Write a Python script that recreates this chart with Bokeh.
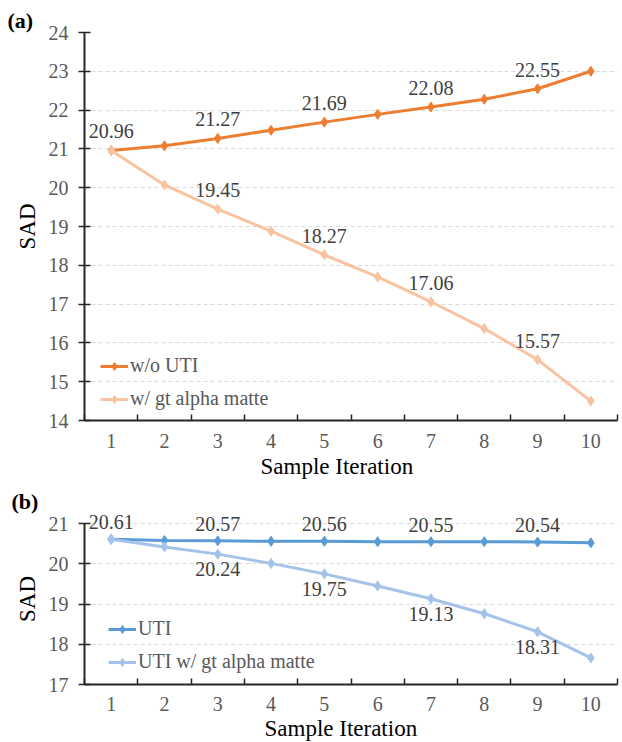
from bokeh.plotting import figure
from bokeh.models import ColumnDataSource, FixedTicker, LabelSet, Title
from bokeh.layouts import column
from bokeh.core.properties import value
from bokeh.embed import file_html
from bokeh.resources import INLINE

# ---------------- data ----------------
iterations = [1, 2, 3, 4, 5, 6, 7, 8, 9, 10]
a_wo_uti = [20.96, 21.08, 21.27, 21.48, 21.69, 21.89, 22.08, 22.28, 22.55, 23.00]
a_gt_alpha = [20.96, 20.07, 19.45, 18.88, 18.27, 17.70, 17.06, 16.37, 15.57, 14.50]
b_uti = [20.61, 20.58, 20.57, 20.56, 20.56, 20.55, 20.55, 20.55, 20.54, 20.52]
b_uti_gt_alpha = [20.61, 20.42, 20.24, 20.01, 19.75, 19.45, 19.13, 18.76, 18.31, 17.66]
first_labeled_idx = [0, 2, 4, 6, 8]   # labelled points of the first series
second_labeled_idx = [2, 4, 6, 8]     # labelled points of the second series
a_yticks = [14, 15, 16, 17, 18, 19, 20, 21, 22, 23, 24]
b_yticks = [17, 18, 19, 20, 21]
x_title = "Sample Iteration"
y_title = "SAD"

FONT = "Liberation Serif, Times New Roman, serif"
TICK_COLOR = "#595959"
LABEL_COLOR = "#404040"
AXIS_COLOR = "#262626"


def make_panel(width, height, left, right, top, bottom, yticks, y_top,
               series, panel_tag, legend_loc, tick_standoff,
               title_left, title_standoff):
    ymin, ymax = yticks[0], yticks[-1]
    p = figure(width=width, height=height, output_backend="svg",
               toolbar_location=None,
               x_range=(iterations[0] - 0.5, iterations[-1] + 0.5),
               y_range=(ymin, y_top),
               min_border_left=left, min_border_right=right,
               min_border_top=top, min_border_bottom=bottom)
    p.outline_line_color = None
    p.background_fill_color = "white"
    p.border_fill_color = "white"

    # x axis: labels at centres, ticks at category boundaries (minor ticks)
    xt = FixedTicker(ticks=iterations,
                     minor_ticks=[i - 0.5 for i in iterations] + [iterations[-1] + 0.5])
    p.xaxis.ticker = xt
    p.xaxis.major_tick_line_color = None
    p.xaxis.major_tick_in = 0
    p.xaxis.major_tick_out = 0
    p.xaxis.minor_tick_in = 6
    p.xaxis.minor_tick_out = 0
    p.xaxis.minor_tick_line_color = AXIS_COLOR
    p.xaxis.minor_tick_line_width = 1.5
    p.xaxis.major_label_standoff = tick_standoff

    p.yaxis.ticker = FixedTicker(ticks=yticks)
    p.yaxis.bounds = (ymin, ymax)
    p.yaxis.major_tick_in = 6
    p.yaxis.major_tick_out = 6
    p.yaxis.major_tick_line_color = AXIS_COLOR
    p.yaxis.major_tick_line_width = 1.5
    p.yaxis.minor_tick_line_color = None
    p.yaxis.major_label_standoff = 10
    p.yaxis.axis_label = y_title
    p.yaxis.axis_label_standoff = 6

    for ax in (p.xaxis, p.yaxis):
        ax.axis_line_color = AXIS_COLOR
        ax.axis_line_width = 2
        ax.major_label_text_font = FONT
        ax.major_label_text_font_size = "20px"
        ax.major_label_text_color = TICK_COLOR
        ax.axis_label_text_font = FONT
        ax.axis_label_text_font_size = "23px"
        ax.axis_label_text_font_style = "normal"
        ax.axis_label_text_color = "black"

    p.xgrid.grid_line_color = None
    p.ygrid.ticker = FixedTicker(ticks=yticks)
    p.ygrid.grid_line_color = "#D9D9D9"
    p.ygrid.grid_line_dash = "4 3"
    p.ygrid.grid_line_width = 1

    for vals, color, name, lab_off, idx in series:
        src = ColumnDataSource(dict(x=iterations, y=vals))
        p.line("x", "y", source=src, line_color=color, line_width=3,
               legend_label=name)
        p.scatter("x", "y", source=src, marker="diamond", size=10,
                  fill_color=color, line_color=color, legend_label=name)
        lsrc = ColumnDataSource(dict(
            x=[iterations[i] for i in idx],
            y=[vals[i] for i in idx],
            t=["%.2f" % vals[i] for i in idx]))
        p.add_layout(LabelSet(x="x", y="y", text="t", source=lsrc,
                              y_offset=lab_off, text_align="center",
                              text_baseline="middle",
                              text_font=value(FONT),
                              text_font_size=value("20px"),
                              text_color=LABEL_COLOR))

    lg = p.legend[0]
    lg.location = legend_loc
    lg.background_fill_alpha = 0
    lg.border_line_color = None
    lg.padding = 0
    lg.margin = 0
    lg.spacing = 10
    lg.glyph_width = 28
    lg.glyph_height = 20
    lg.label_height = 20
    lg.label_standoff = 2
    lg.label_text_font = FONT
    lg.label_text_font_size = "20px"
    lg.label_text_color = TICK_COLOR

    p.add_layout(Title(text=panel_tag, align="left", offset=-left + 7,
                       standoff=0, text_font=FONT, text_font_size="22px",
                       text_font_style="bold", text_color="black"), "above")
    p.add_layout(Title(text=x_title, align="left", offset=title_left - left,
                       standoff=title_standoff, text_font=FONT,
                       text_font_size="23px", text_font_style="normal",
                       text_color="black"), "below")
    return p


pa = make_panel(622, 486, 84, 2, 32, 66, a_yticks, 24,
                [(a_wo_uti, "#ED7D31", "w/o UTI", 19, first_labeled_idx),
                 (a_gt_alpha, "#F8C3A0", "w/ gt alpha matte", 19, second_labeled_idx)],
                "(a)", (16, 10), 13, 260, 3)
pb = make_panel(622, 256, 80, 5, 26, 58, b_yticks, 21.25,
                [(b_uti, "#5B9BD5", "UTI", 17, first_labeled_idx),
                 (b_uti_gt_alpha, "#A4C2EA", "UTI w/ gt alpha matte", -15, second_labeled_idx)],
                "(b)", (24, 11), 12, 260, 0)

layout = column(pa, pb, spacing=0)
open("out.html", "w").write(file_html(layout, INLINE))
